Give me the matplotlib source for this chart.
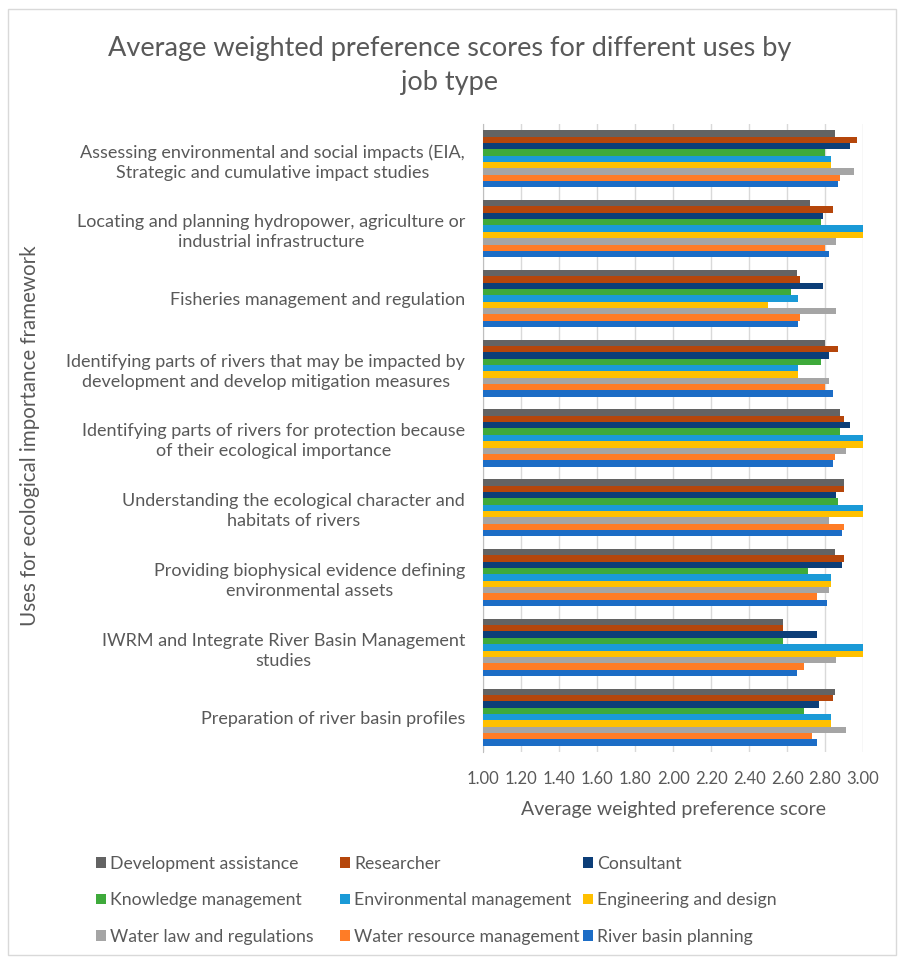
import numpy as np
import matplotlib
matplotlib.use('Agg')
import matplotlib.pyplot as plt
from matplotlib.patches import Rectangle

plt.rcParams['font.family'] = ['Lato', 'DejaVu Sans']

# 카테고리 (위에서 아래 순서)
uses = [
    'Assessing environmental and social impacts (EIA,\nStrategic and cumulative impact studies',
    'Locating and planning hydropower, agriculture or\nindustrial infrastructure',
    'Fisheries management and regulation',
    'Identifying parts of rivers that may be impacted by\ndevelopment and develop mitigation measures',
    'Identifying parts of rivers for protection because\nof their ecological importance',
    'Understanding the ecological character and\nhabitats of rivers',
    'Providing biophysical evidence defining\nenvironmental assets',
    'IWRM and Integrate River Basin Management\nstudies',
    'Preparation of river basin profiles',
]

job_types = ['Development assistance', 'Researcher', 'Consultant',
             'Knowledge management', 'Environmental management', 'Engineering and design',
             'Water law and regulations', 'Water resource management', 'River basin planning']

colors = ['#636363', '#B5460B', '#0C3E78', '#3EAA3B', '#1A9AD7',
          '#FFC000', '#A5A5A5', '#FF7C26', '#1C6DC6']

# 직업군별 점수 (uses 순서)
development_assistance = [2.85, 2.72, 2.65, 2.80, 2.88, 2.90, 2.85, 2.58, 2.85]
researcher = [2.97, 2.84, 2.67, 2.87, 2.90, 2.90, 2.90, 2.58, 2.84]
consultant = [2.93, 2.79, 2.79, 2.82, 2.93, 2.86, 2.89, 2.76, 2.77]
knowledge_management = [2.80, 2.78, 2.62, 2.78, 2.88, 2.87, 2.71, 2.58, 2.69]
environmental_management = [2.83, 3.00, 2.66, 2.66, 3.00, 3.00, 2.83, 3.00, 2.83]
engineering_design = [2.83, 3.00, 2.50, 2.66, 3.00, 3.00, 2.83, 3.00, 2.83]
water_law = [2.95, 2.86, 2.86, 2.82, 2.91, 2.82, 2.82, 2.86, 2.91]
water_resource = [2.88, 2.80, 2.67, 2.80, 2.85, 2.90, 2.76, 2.69, 2.73]
river_basin = [2.87, 2.82, 2.66, 2.84, 2.84, 2.89, 2.81, 2.65, 2.76]

series = [development_assistance, researcher, consultant, knowledge_management,
          environmental_management, engineering_design, water_law,
          water_resource, river_basin]

txtcolor = '#595959'
fig = plt.figure(figsize=(9, 9.58), dpi=100)
ax = fig.add_axes([0.537, 0.215, 0.4219, 0.6556])

ypos = np.arange(len(uses))
h = 0.82 / len(series)
base = 1.0
for i, vals in enumerate(series):
    vals = np.array(vals)
    ax.barh(ypos + (i - 4) * h, vals - base, left=base, height=h,
            color=colors[i], label=job_types[i], zorder=3)

ax.set_xlim(1.0, 3.0)
ax.set_ylim(8.5, -0.5)
ax.set_xticks(np.arange(1.0, 3.01, 0.2))
ax.set_xticklabels(['%.2f' % v for v in np.arange(1.0, 3.01, 0.2)])
ax.set_yticks(ypos)
ax.set_yticklabels(uses)
for lab in ax.get_yticklabels():
    lab.set_multialignment('center')
    lab.set_linespacing(1.3)

ax.grid(axis='x', color='#D9D9D9', linewidth=1, zorder=0)
for s in ['top', 'right', 'bottom']:
    ax.spines[s].set_visible(False)
ax.spines['left'].set_color('#BFBFBF')
ax.tick_params(length=0, colors=txtcolor)
ax.tick_params(axis='y', pad=13, labelsize=13)
ax.tick_params(axis='x', pad=14, labelsize=12)

ax.set_xlabel('Average weighted preference score', fontsize=14, color=txtcolor, labelpad=10)
fig.text(0.033, 0.545, 'Uses for ecological importance framework', rotation=90,
         fontsize=14.8, color=txtcolor, ha='center', va='center')

fig.text(0.5, 0.932, 'Average weighted preference scores for different uses by\njob type',
         fontsize=19.5, color=txtcolor, ha='center', va='center', linespacing=1.45)

# 범례 : 열마다 따로 그림 (엑셀처럼 행 우선 배치)
handles, labels = ax.get_legend_handles_labels()
col_x = [96 / 900, 340 / 900, 583 / 900]
for c in range(3):
    idx = [c, c + 3, c + 6]
    leg = fig.legend([handles[k] for k in idx], [labels[k] for k in idx],
                     loc='upper left', bbox_to_anchor=(col_x[c], 1 - 856 / 958),
                     frameon=False, fontsize=12.7, labelcolor=txtcolor,
                     handlelength=0.55, handleheight=0.55, handletextpad=0.25,
                     labelspacing=1.15, borderpad=0, borderaxespad=0)

# 바깥 테두리
fig.patches.append(Rectangle((0.009, 0.003), 0.987, 0.988, transform=fig.transFigure,
                             fill=False, edgecolor='#D9D9D9', linewidth=1))

plt.savefig('out.png', dpi=100)
